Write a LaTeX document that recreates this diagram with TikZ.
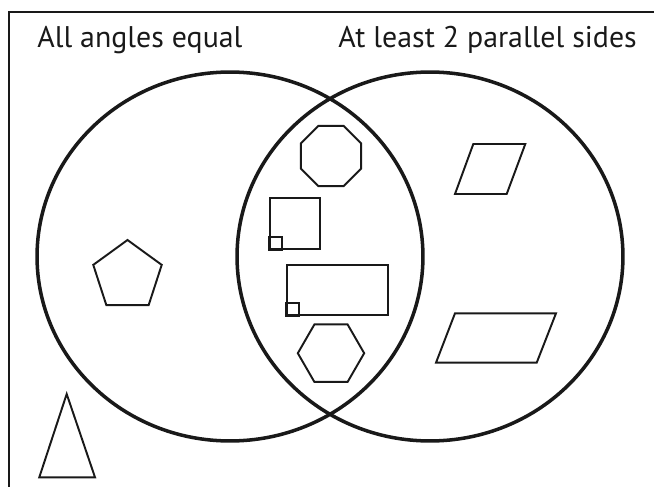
\documentclass[tikz,border=0pt]{standalone}
\usepackage{fontspec}
\setmainfont{PT Sans}
\usepackage{tikz}
\usetikzlibrary{shapes.geometric, positioning}
\tikzset{
    venn/.style={draw, ellipse, minimum width=7.72cm, minimum height=7.38cm, inner sep=0pt, line width=2pt, draw=black!90},
    outline/.style={draw=black!90, line width=1.1pt},
    polyshape/.style={draw, regular polygon, inner sep=0pt, outline},
    boxshape/.style={draw, rectangle, inner sep=0pt, outline},
    title/.style={anchor=base west, inner sep=0pt, font=\fontsize{17}{20}\selectfont, text=black!90}
}

\begin{document}
\begin{tikzpicture}[x=0.02cm, y=-0.02cm]
        \useasboundingbox (0,0) rectangle (654,487);

        % Cornice
        \draw [outline] (9,487) -- (9,12) -- (654,12);

        % Titoli
        \node (equal) [title] at (37,47) {All angles equal};
        \node (parallel) [title] at (338,47) {At least 2 parallel sides};

        % Insiemi
        \node (left) [venn] at (230,256.5) {};
        \node (right) [venn] at (430,256.5) {};

        % Solo angoli uguali
        \node (pentagon) [polyshape, regular polygon sides=5, minimum size=1.44cm] at (127.5,276) {};

        % Intersezione
        \node (octagon) [polyshape, regular polygon sides=8, minimum size=1.308cm] at (331,156) {};
        \node (square) [boxshape, minimum width=1.006cm, minimum height=1.014cm] at (295.2,223.4) {};
        \node (rect) [boxshape, minimum width=2.014cm, minimum height=1.012cm] at (337.7,290) {};
        \node (hexagon) [polyshape, regular polygon sides=6, minimum size=1.328cm] at (331,353.2) {};
        \draw [outline] (square.south west) rectangle ++(12.7,-12.7);
        \draw [outline] (rect.south west) rectangle ++(13,-13);

        % Solo lati paralleli
        \draw [outline] (473.3,144) -- (525.3,144) -- (506.7,194) -- (455,194) -- cycle;
        \draw [outline] (455,313.3) -- (556,313.3) -- (536.7,362.7) -- (436,362.7) -- cycle;

        % Fuori
        \draw [outline] (66.7,394) -- (95,477.3) -- (39.3,477.3) -- cycle;

    \end{tikzpicture}
\end{document}
